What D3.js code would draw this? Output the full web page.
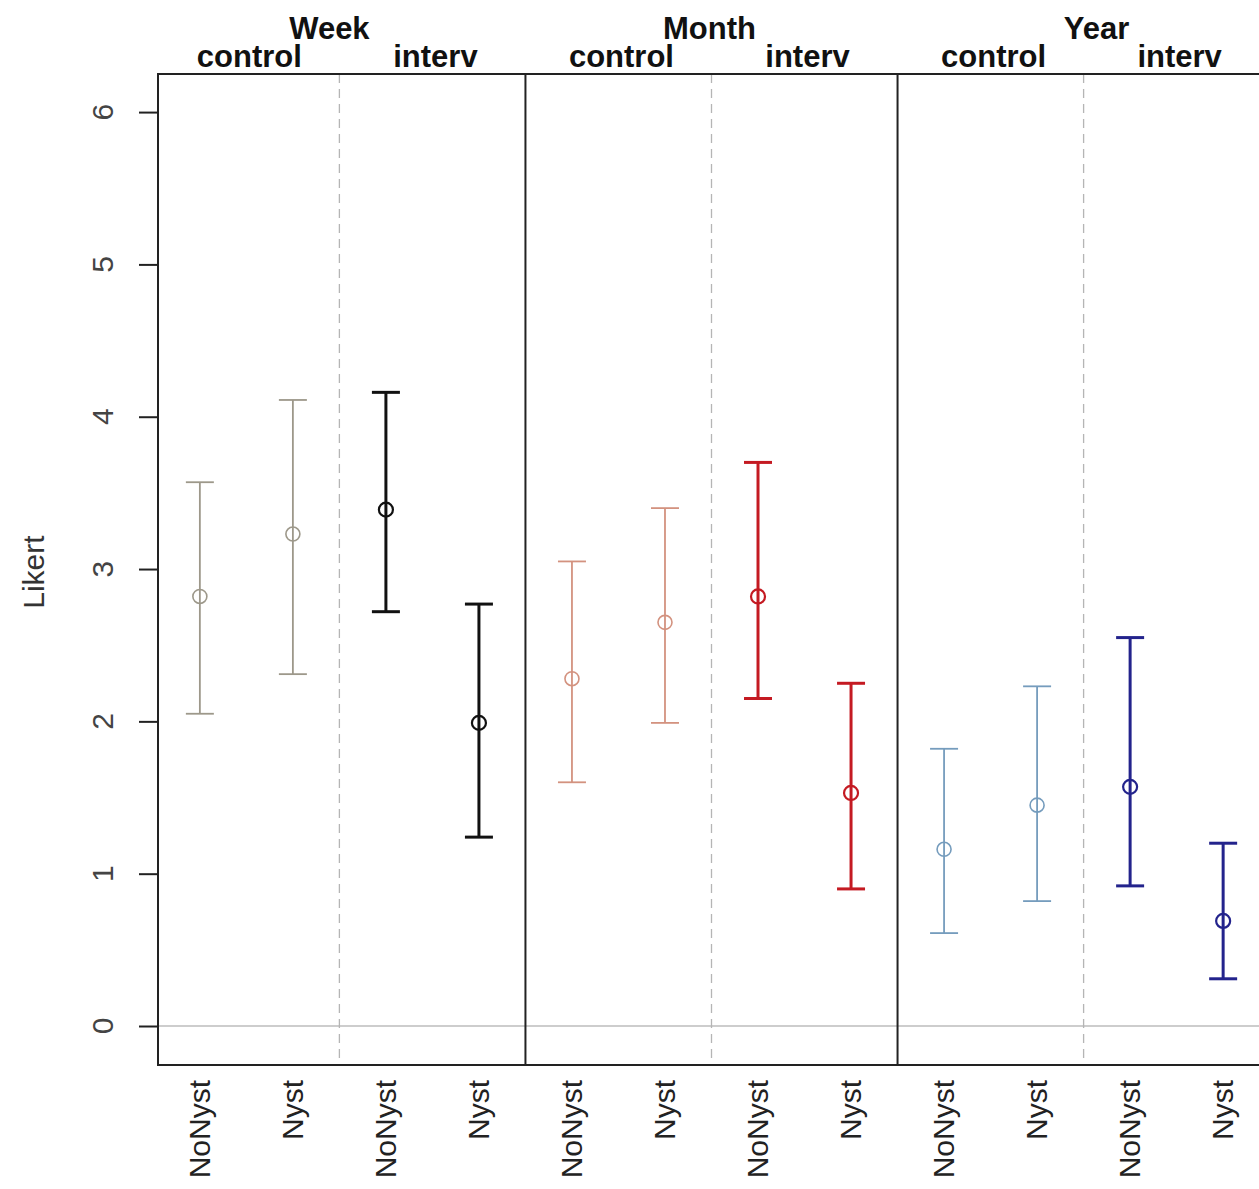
<!DOCTYPE html>
<html>
<head>
<meta charset="utf-8">
<script src="https://cdn.jsdelivr.net/npm/d3@7"></script>
<style>
  body { margin: 0; background: #fff; }
  text { font-family: 'Liberation Sans', Arial, sans-serif; }
</style>
</head>
<body>
<script>
// Data
var periods = ['Week', 'Month', 'Year'],
    groups = ['control', 'interv'],
    labels = ['NoNyst', 'Nyst', 'NoNyst', 'Nyst', 'NoNyst', 'Nyst', 'NoNyst', 'Nyst', 'NoNyst', 'Nyst', 'NoNyst', 'Nyst'],
    means = [2.82, 3.23, 3.39, 1.99, 2.28, 2.65, 2.82, 1.53, 1.16, 1.45, 1.57, 0.69],
    upper = [3.57, 4.11, 4.16, 2.77, 3.05, 3.40, 3.70, 2.25, 1.82, 2.23, 2.55, 1.20],
    lower = [2.05, 2.31, 2.72, 1.24, 1.60, 1.99, 2.15, 0.90, 0.61, 0.82, 0.92, 0.31],
    yTicks = [0, 1, 2, 3, 4, 5, 6];

// one colour per period/group pair
var colors = ['#9d988a', '#111111', '#d3927f', '#c41a22', '#759cbd', '#23238c'];

var W = 1259, H = 1189;
var box = {left: 158, top: 74, right: 1265, bottom: 1065};

var svg = d3.select('body').append('svg')
    .attr('width', W).attr('height', H);

var x = d3.scaleLinear().domain([-0.45, 11.45]).range([box.left, box.right]);
var y = d3.scaleLinear().domain([-0.256, 6.25]).range([box.bottom, box.top]);

var points = means.map(function(m, i) {
  var p = Math.floor(i / 4), g = Math.floor((i % 4) / 2);
  return {i: i, mean: m, hi: upper[i], lo: lower[i], label: labels[i], group: groups[g], color: colors[p * 2 + g]};
});

// zero line
svg.append('line')
    .attr('x1', box.left).attr('x2', W)
    .attr('y1', y(0)).attr('y2', y(0))
    .attr('stroke', '#bdbdbd').attr('stroke-width', 1.5);

// dashed separators between control and interv
periods.forEach(function(p, k) {
  svg.append('line')
      .attr('x1', x(k * 4 + 1.5)).attr('x2', x(k * 4 + 1.5))
      .attr('y1', box.top).attr('y2', box.bottom)
      .attr('stroke', '#b5b5b5').attr('stroke-width', 1.3)
      .attr('stroke-dasharray', '9,6');
});

// solid separators between periods
[1, 2].forEach(function(k) {
  svg.append('line')
      .attr('x1', x(k * 4 - 0.5)).attr('x2', x(k * 4 - 0.5))
      .attr('y1', box.top).attr('y2', box.bottom)
      .attr('stroke', '#222').attr('stroke-width', 2);
});

// plot box
svg.append('path')
    .attr('d', 'M' + W + ',' + box.top + 'H' + box.left + 'V' + box.bottom + 'H' + W)
    .attr('fill', 'none').attr('stroke', '#222').attr('stroke-width', 2);

// y axis
var yAxis = d3.axisLeft(y).tickValues(yTicks).tickSize(19).tickFormat('');
var ya = svg.append('g').attr('transform', 'translate(' + box.left + ',0)').call(yAxis);
ya.select('.domain').attr('d', 'M0,' + y(0) + 'V' + y(6)).attr('stroke', '#222').attr('stroke-width', 2);
ya.selectAll('.tick line').attr('stroke', '#222').attr('stroke-width', 2);

svg.selectAll('.ylab').data(yTicks).enter().append('text')
    .attr('transform', function(d) { return 'translate(113,' + y(d) + ') rotate(-90)'; })
    .attr('text-anchor', 'middle')
    .attr('font-size', 30).attr('fill', '#444')
    .text(function(d) { return d; });

svg.append('text')
    .attr('transform', 'translate(44,' + y(2.98) + ') rotate(-90)')
    .attr('text-anchor', 'middle')
    .attr('font-size', 30).attr('fill', '#333')
    .text('Likert');

// x labels
svg.selectAll('.xlab').data(points).enter().append('text')
    .attr('transform', function(d) { return 'translate(' + (x(d.i) + 10) + ',1080) rotate(-90)'; })
    .attr('text-anchor', 'end')
    .attr('font-size', 30).attr('fill', '#222')
    .text(function(d) { return d.label; });

// header labels
var headerShift = [-10, -2, 13];
periods.forEach(function(p, k) {
  svg.append('text')
      .attr('x', x(k * 4 + 1.5) + headerShift[k]).attr('y', 39)
      .attr('text-anchor', 'middle')
      .attr('font-size', 31).attr('font-weight', 'bold').attr('fill', '#111')
      .text(p);
  groups.forEach(function(g, j) {
    svg.append('text')
        .attr('x', x(k * 4 + j * 2 + 0.5) + 3).attr('y', 67)
        .attr('text-anchor', 'middle')
        .attr('font-size', 31).attr('font-weight', 'bold').attr('fill', '#111')
        .text(g);
  });
});

// error bars
var bars = svg.selectAll('.bar').data(points).enter().append('g')
    .attr('stroke', function(d) { return d.color; })
    .attr('stroke-width', function(d) { return d.group === 'interv' ? 3 : 1.8; })
    .attr('fill', 'none');

bars.append('line')
    .attr('x1', function(d) { return x(d.i); }).attr('x2', function(d) { return x(d.i); })
    .attr('y1', function(d) { return y(d.hi); }).attr('y2', function(d) { return y(d.lo); });

bars.append('line')
    .attr('x1', function(d) { return x(d.i) - 14; }).attr('x2', function(d) { return x(d.i) + 14; })
    .attr('y1', function(d) { return y(d.hi); }).attr('y2', function(d) { return y(d.hi); });

bars.append('line')
    .attr('x1', function(d) { return x(d.i) - 14; }).attr('x2', function(d) { return x(d.i) + 14; })
    .attr('y1', function(d) { return y(d.lo); }).attr('y2', function(d) { return y(d.lo); });

bars.append('circle')
    .attr('cx', function(d) { return x(d.i); })
    .attr('cy', function(d) { return y(d.mean); })
    .attr('r', 7)
    .attr('fill', 'none')
    .attr('stroke-width', function(d) { return d.group === 'interv' ? 2.2 : 1.6; });
</script>
</body>
</html>
